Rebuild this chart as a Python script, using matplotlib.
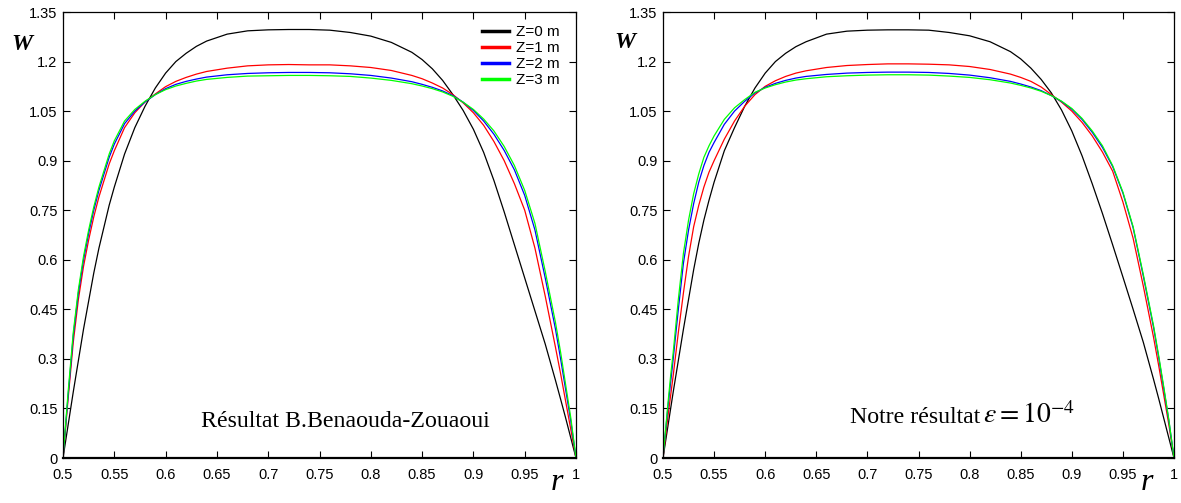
import matplotlib
matplotlib.use("Agg")
import matplotlib.pyplot as plt
from matplotlib.lines import Line2D

plt.rcParams['mathtext.fontset'] = 'stix'

# ---------------- data ----------------
r = [0.5, 0.5025, 0.505, 0.5075, 0.51, 0.515, 0.52, 0.525, 0.53, 0.535,
     0.54, 0.545, 0.55, 0.56, 0.57, 0.58, 0.59, 0.60, 0.61, 0.62,
     0.63, 0.64, 0.66, 0.68, 0.70, 0.72, 0.74, 0.76, 0.78, 0.80,
     0.82, 0.84, 0.85, 0.86, 0.87, 0.88, 0.89, 0.90, 0.91, 0.92,
     0.93, 0.94, 0.95, 0.96, 0.97, 0.98, 0.985, 0.99, 0.995, 1.0]

labels = ["Z=0 m", "Z=1 m", "Z=2 m", "Z=3 m"]
colors = ["#000000", "#ff0000", "#0000ff", "#00ff00"]

# Left panel: Résultat B.Benaouda-Zouaoui
left_z0 = [0, 0.05, 0.10, 0.15, 0.20, 0.295, 0.39, 0.475, 0.56, 0.635,
           0.70, 0.765, 0.82, 0.92, 1.00, 1.065, 1.12, 1.165, 1.20, 1.225,
           1.246, 1.262, 1.283, 1.293, 1.296, 1.297, 1.297, 1.295, 1.288, 1.277,
           1.258, 1.228, 1.206, 1.178, 1.143, 1.10, 1.052, 0.995, 0.925, 0.84,
           0.745, 0.645, 0.545, 0.445, 0.345, 0.235, 0.178, 0.12, 0.06, 0]
left_z1 = [0, 0.09, 0.18, 0.265, 0.35, 0.48, 0.58, 0.66, 0.73, 0.79,
           0.84, 0.89, 0.93, 1.00, 1.045, 1.078, 1.102, 1.124, 1.14, 1.152,
           1.162, 1.17, 1.18, 1.187, 1.19, 1.191, 1.19, 1.19, 1.187, 1.182,
           1.173, 1.158, 1.148, 1.135, 1.12, 1.10, 1.075, 1.045, 1.007, 0.958,
           0.90, 0.83, 0.75, 0.635, 0.49, 0.335, 0.255, 0.17, 0.085, 0]
left_z2 = [0, 0.095, 0.19, 0.28, 0.37, 0.50, 0.60, 0.68, 0.75, 0.81,
           0.86, 0.91, 0.95, 1.012, 1.05, 1.078, 1.10, 1.118, 1.131, 1.14,
           1.147, 1.153, 1.16, 1.164, 1.166, 1.167, 1.167, 1.166, 1.163, 1.158,
           1.15, 1.139, 1.131, 1.122, 1.111, 1.097, 1.077, 1.052, 1.02, 0.98,
           0.931, 0.872, 0.795, 0.69, 0.545, 0.39, 0.30, 0.205, 0.11, 0]
left_z3 = [0, 0.10, 0.20, 0.29, 0.38, 0.51, 0.61, 0.69, 0.76, 0.82,
           0.87, 0.92, 0.96, 1.02, 1.055, 1.08, 1.10, 1.115, 1.126, 1.134,
           1.141, 1.146, 1.152, 1.156, 1.157, 1.158, 1.158, 1.157, 1.155, 1.15,
           1.143, 1.133, 1.126, 1.118, 1.108, 1.095, 1.077, 1.055, 1.026, 0.99,
           0.943, 0.885, 0.81, 0.71, 0.565, 0.41, 0.32, 0.22, 0.12, 0]

# Right panel: Notre résultat
right_z0 = [0, 0.05, 0.10, 0.15, 0.20, 0.295, 0.39, 0.48, 0.57, 0.65,
            0.72, 0.78, 0.835, 0.93, 1.00, 1.065, 1.12, 1.165, 1.20, 1.225,
            1.245, 1.26, 1.283, 1.292, 1.295, 1.296, 1.296, 1.295, 1.288, 1.278,
            1.26, 1.23, 1.208, 1.18, 1.146, 1.105, 1.053, 0.99, 0.915, 0.83,
            0.74, 0.645, 0.548, 0.45, 0.35, 0.238, 0.18, 0.12, 0.06, 0]
right_z1 = [0, 0.065, 0.13, 0.19, 0.25, 0.38, 0.50, 0.61, 0.70, 0.765,
            0.82, 0.865, 0.90, 0.965, 1.02, 1.065, 1.10, 1.125, 1.142, 1.155,
            1.165, 1.172, 1.182, 1.188, 1.191, 1.193, 1.193, 1.192, 1.19, 1.185,
            1.176, 1.162, 1.152, 1.14, 1.123, 1.10, 1.077, 1.05, 1.016, 0.975,
            0.926, 0.868, 0.775, 0.665, 0.52, 0.365, 0.28, 0.19, 0.10, 0]
right_z2 = [0, 0.08, 0.16, 0.23, 0.30, 0.45, 0.59, 0.69, 0.77, 0.835,
            0.885, 0.925, 0.955, 1.01, 1.05, 1.08, 1.105, 1.122, 1.134, 1.143,
            1.15, 1.155, 1.161, 1.165, 1.167, 1.168, 1.168, 1.167, 1.164, 1.159,
            1.151, 1.14, 1.132, 1.123, 1.112, 1.097, 1.079, 1.056, 1.025, 0.986,
            0.94, 0.882, 0.802, 0.697, 0.55, 0.395, 0.305, 0.21, 0.112, 0]
right_z3 = [0, 0.085, 0.17, 0.25, 0.32, 0.48, 0.62, 0.72, 0.80, 0.86,
            0.91, 0.945, 0.975, 1.025, 1.06, 1.085, 1.107, 1.12, 1.13, 1.138,
            1.144, 1.148, 1.154, 1.157, 1.159, 1.16, 1.16, 1.159, 1.156, 1.152,
            1.145, 1.135, 1.128, 1.12, 1.11, 1.097, 1.08, 1.058, 1.028, 0.99,
            0.945, 0.885, 0.805, 0.70, 0.555, 0.40, 0.31, 0.215, 0.115, 0]

xticks = [0.5, 0.55, 0.6, 0.65, 0.7, 0.75, 0.8, 0.85, 0.9, 0.95, 1.0]
xticklabels = ["0.5", "0.55", "0.6", "0.65", "0.7", "0.75", "0.8", "0.85", "0.9", "0.95", "1"]
yticks = [0, 0.15, 0.3, 0.45, 0.6, 0.75, 0.9, 1.05, 1.2, 1.35]
yticklabels = ["0", "0.15", "0.3", "0.45", "0.6", "0.75", "0.9", "1.05", "1.2", "1.35"]

# ---------------- figure ----------------
W_, H_ = 1181, 503
fig = plt.figure(figsize=(W_ / 100, H_ / 100), dpi=100)

def fx(px):
    return px / W_

def fy(py):
    return 1 - py / H_

def px_axes(x0, x1, y0, y1):
    return fig.add_axes([x0 / W_, 1 - y1 / H_, (x1 - x0) / W_, (y1 - y0) / H_])

ax1 = px_axes(63, 576, 12, 458)
ax2 = px_axes(663, 1174, 12, 458)

sans = "Liberation Sans"
serif = "Liberation Serif"

for ax, series in ((ax1, (left_z0, left_z1, left_z2, left_z3)),
                   (ax2, (right_z0, right_z1, right_z2, right_z3))):
    for vals, c, lab in zip(series, colors, labels):
        ax.plot(r, vals, color=c, lw=0.9, label=lab)
    ax.set_xlim(0.5, 1.0)
    ax.set_ylim(0, 1.35)
    ax.set_xticks(xticks)
    ax.set_xticklabels(xticklabels, fontfamily=sans, fontsize=10.5)
    ax.set_yticks(yticks)
    ax.set_yticklabels(yticklabels, fontfamily=sans, fontsize=10.5)
    ax.tick_params(direction="in", top=True, right=True, length=5, width=0.8,
                   pad=4)
    ax.tick_params(axis="x", pad=7)
    for s in ("left", "right", "top"):
        ax.spines[s].set_linewidth(0.9)
    ax.spines["bottom"].set_linewidth(1.6)

# legend (left panel)
handles = [Line2D([0], [0], color=c, lw=2.5) for c in colors]
fig.legend(handles, labels, loc="upper right", frameon=False,
           prop={"family": sans, "size": 11}, handlelength=1.77,
           labelspacing=0.12, handletextpad=0.5, borderaxespad=0.0,
           borderpad=0.0, bbox_to_anchor=(fx(560), fy(25.5)),
           bbox_transform=fig.transFigure)

# annotations
fig.text(fx(345), fy(427), "Résultat B.Benaouda-Zouaoui", fontfamily=serif,
         fontsize=17.2, ha="center", va="baseline")
fig.text(fx(980), fy(423), "Notre résultat", fontfamily=serif,
         fontsize=17.2, ha="right", va="baseline")
fig.text(fx(983), fy(423), r"$\varepsilon = 10^{-4}$",
         fontsize=20, ha="left", va="baseline")

# axis labels
fig.text(fx(22), fy(45), "W", fontfamily=serif, fontweight="bold",
         fontstyle="italic", fontsize=17, ha="center", va="center")
fig.text(fx(625), fy(43), "W", fontfamily=serif, fontweight="bold",
         fontstyle="italic", fontsize=17, ha="center", va="center")
fig.text(fx(557), fy(482), "r", fontfamily=serif, fontstyle="italic",
         fontsize=23, ha="center", va="center")
fig.text(fx(1147), fy(482), "r", fontfamily=serif, fontstyle="italic",
         fontsize=23, ha="center", va="center")

fig.savefig("out.png", dpi=100)
